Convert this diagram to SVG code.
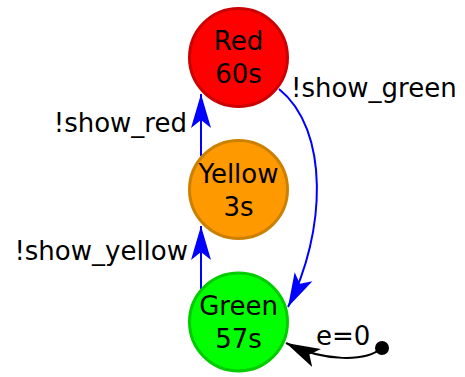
<svg xmlns="http://www.w3.org/2000/svg" width="465" height="377" viewBox="0 0 465 377">
<defs>
<style>
text{font-family:"DejaVu Sans","Liberation Sans",sans-serif;font-size:26px;fill:#000}
.n{text-anchor:middle}
.e{fill:none;stroke-width:2}
.b{stroke:#0000ff}
.k{stroke:#000}
</style>
<marker id="ab" markerUnits="userSpaceOnUse" viewBox="-35 -11 36 22" refX="0" refY="0" markerWidth="36" markerHeight="22" orient="auto">
<path d="M0 0 L-34 -10 L-26 0 L-34 10 Z" fill="#0000ff"/>
</marker>
<marker id="ak" markerUnits="userSpaceOnUse" viewBox="-35 -11 36 22" refX="0" refY="0" markerWidth="36" markerHeight="22" orient="auto">
<path d="M0 0 L-34 -10 L-26 0 L-34 10 Z" fill="#000"/>
</marker>
</defs>
<rect width="465" height="377" fill="#fff"/>
<g id="edges">
<path class="e b" d="M201 156 L201 94" marker-end="url(#ab)"/>
<path class="e b" d="M201 289 L201 226" marker-end="url(#ab)"/>
<path class="e b" d="M279 89 C330 130 326 233 288 307" marker-end="url(#ab)"/>
<path class="e k" d="M382 348 C365 362 325 362 286 343" marker-end="url(#ak)"/>
<text x="187" y="132" text-anchor="end">!show_red</text>
<text x="188" y="260" text-anchor="end">!show_yellow</text>
<text x="291" y="97">!show_green</text>
<text x="316" y="345">e=0</text>
</g>
<g id="red">
<circle cx="238.5" cy="57.5" r="49" fill="#ff0000" stroke="#cc0000" stroke-width="3"/>
<text class="n" x="238.5" y="50">Red</text>
<text class="n" x="238.5" y="83">60s</text>
</g>
<g id="yellow">
<circle cx="238.5" cy="189.5" r="49" fill="#ff9900" stroke="#cc8000" stroke-width="3"/>
<text class="n" x="238.5" y="183">Yellow</text>
<text class="n" x="238.5" y="216">3s</text>
</g>
<g id="green">
<circle cx="238.5" cy="322" r="49" fill="#00ff00" stroke="#00cc00" stroke-width="3"/>
<text class="n" x="238.5" y="315">Green</text>
<text class="n" x="238.5" y="348">57s</text>
</g>
<g id="init">
<circle cx="382" cy="348" r="7" fill="#000"/>
</g>
</svg>
